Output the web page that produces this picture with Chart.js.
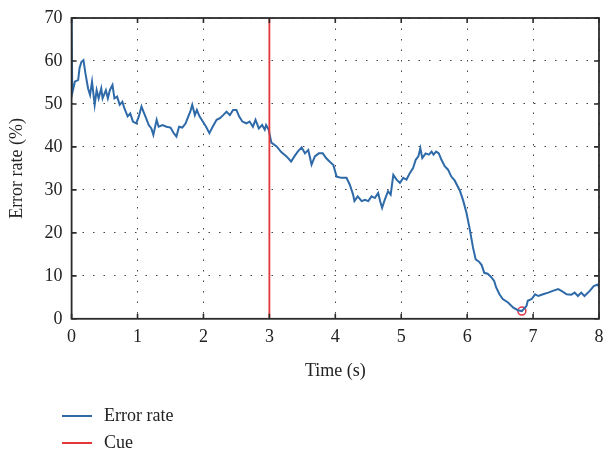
<!DOCTYPE html>
<html>
<head>
<meta charset="utf-8">
<script src="https://cdn.jsdelivr.net/npm/chart.js@4.4.1/dist/chart.umd.min.js"></script>
<style>
  html, body { margin: 0; padding: 0; background: #fff; overflow: hidden; }
  #wrap { position: relative; width: 603px; height: 451px; overflow: hidden; }
  #legend { position: absolute; left: 62px; top: 402px; font-family: "Liberation Serif", serif; font-size: 18px; color: #222; }
  .item { display: flex; align-items: center; height: 27px; }
  .swatch { width: 30px; height: 0; border-top: 2px solid; margin-right: 12px; }
</style>
</head>
<body>
<div id="wrap">
  <canvas id="chart" width="612" height="451"></canvas>
  <div id="legend">
    <div class="item"><span class="swatch" style="border-color:#2e6aa8"></span>Error rate</div>
    <div class="item"><span class="swatch" style="border-color:#e5363a"></span>Cue</div>
  </div>
</div>
<script>
// time axis (s) and error rate (%)
let timeSec = [
  0.00, 0.01, 0.05, 0.10, 0.12, 0.15, 0.18, 0.21, 0.25, 0.28, 0.31, 0.35, 0.38, 0.41, 0.45, 0.47,
  0.52, 0.55, 0.58, 0.62, 0.65, 0.69, 0.73, 0.77, 0.80, 0.85, 0.89, 0.93, 0.98, 1.02, 1.06, 1.09,
  1.13, 1.17, 1.21, 1.24, 1.29, 1.32, 1.38, 1.44, 1.50, 1.55, 1.59, 1.63, 1.68, 1.73, 1.76, 1.80,
  1.83, 1.87, 1.90, 1.94, 1.99, 2.04, 2.09, 2.14, 2.20, 2.25, 2.30, 2.35, 2.40, 2.45, 2.50, 2.54,
  2.59, 2.65, 2.70, 2.75, 2.79, 2.84, 2.89, 2.93, 2.95, 2.99, 3.03, 3.11, 3.18, 3.26, 3.33, 3.38,
  3.43, 3.49, 3.54, 3.59, 3.64, 3.69, 3.75, 3.81, 3.86, 3.92, 3.97, 4.02, 4.09, 4.17, 4.22, 4.27,
  4.29, 4.34, 4.40, 4.45, 4.50, 4.55, 4.60, 4.65, 4.68, 4.71, 4.75, 4.80, 4.84, 4.88, 4.93, 4.98,
  5.03, 5.08, 5.13, 5.18, 5.22, 5.26, 5.29, 5.32, 5.37, 5.42, 5.46, 5.49, 5.53, 5.57, 5.61, 5.66,
  5.71, 5.76, 5.81, 5.89, 5.94, 5.99, 6.04, 6.09, 6.13, 6.18, 6.22, 6.26, 6.31, 6.36, 6.41, 6.44,
  6.49, 6.54, 6.62, 6.70, 6.77, 6.83, 6.90, 6.92, 6.98, 7.03, 7.08, 7.15, 7.23, 7.30, 7.38, 7.43,
  7.51, 7.58, 7.63, 7.68, 7.73, 7.78, 7.86, 7.92, 7.99, 8.00
];
let errorRate = [
  70.0, 52.5, 55.2, 55.6, 58.3, 59.8, 60.2, 57.1, 53.6, 52.1, 55.2, 49.8, 53.2, 51.3, 53.6, 51.3,
  53.2, 51.3, 53.2, 54.4, 51.3, 51.7, 49.8, 50.5, 49.0, 47.1, 47.8, 45.9, 45.5, 47.1, 49.4, 48.2,
  46.7, 45.1, 44.3, 42.8, 46.3, 44.7, 45.1, 44.7, 44.5, 43.2, 42.4, 44.7, 44.5, 45.5, 46.7, 48.2,
  49.8, 47.4, 48.6, 47.1, 45.9, 44.7, 43.2, 44.7, 46.3, 46.7, 47.4, 48.2, 47.4, 48.6, 48.6, 47.1,
  45.9, 45.5, 45.9, 44.7, 46.3, 44.3, 45.1, 44.0, 45.1, 44.0, 41.0, 40.1, 38.8, 37.8, 36.6, 37.8,
  38.9, 39.9, 38.5, 39.3, 35.9, 37.8, 38.5, 38.5, 37.4, 36.5, 35.8, 33.1, 32.8, 32.8, 31.2, 28.9,
  27.4, 28.5, 27.4, 27.7, 27.4, 28.5, 28.1, 29.3, 27.4, 25.8, 27.7, 29.7, 28.9, 33.5, 32.4, 31.6,
  32.8, 32.4, 33.9, 35.1, 37.0, 37.8, 39.7, 37.4, 38.5, 38.2, 38.9, 38.2, 38.9, 38.5, 37.0, 35.5,
  34.7, 33.1, 32.2, 29.8, 27.5, 24.6, 20.8, 16.5, 13.8, 13.3, 12.5, 10.7, 10.5, 9.8, 8.8, 7.3,
  5.7, 4.6, 3.8, 2.6, 2.0, 1.8, 3.0, 4.2, 4.6, 5.7, 5.3, 5.7, 6.1, 6.5, 6.9, 6.5,
  5.7, 5.6, 6.1, 5.3, 6.1, 5.3, 6.5, 7.6, 8.0, 7.2
];
let cueTime = [3, 3];
let cueRange = [0, 70];
let minPoint = { x: 6.83, y: 1.8 };
let xTicks = [0, 1, 2, 3, 4, 5, 6, 7, 8];
let yTicks = [0, 10, 20, 30, 40, 50, 60, 70];

const serif = '"Liberation Serif", "Times New Roman", serif';
const textColor = '#222';

// frame box and inside tick marks, like the original plot
const framePlugin = {
  id: 'frame',
  afterDatasetsDraw(chart) {
    const { ctx, chartArea: a, scales } = chart;
    ctx.save();
    ctx.strokeStyle = '#2b2b2b';
    ctx.lineWidth = 1.6;
    ctx.beginPath();
    xTicks.forEach(v => {
      const px = scales.x.getPixelForValue(v);
      ctx.moveTo(px, a.bottom); ctx.lineTo(px, a.bottom - 5);
      ctx.moveTo(px, a.top); ctx.lineTo(px, a.top + 5);
    });
    yTicks.forEach(v => {
      const py = scales.y.getPixelForValue(v);
      ctx.moveTo(a.left, py); ctx.lineTo(a.left + 5, py);
      ctx.moveTo(a.right, py); ctx.lineTo(a.right - 5, py);
    });
    ctx.stroke();
    ctx.lineWidth = 1.8;
    ctx.strokeRect(a.left, a.top, a.right - a.left, a.bottom - a.top);
    ctx.restore();
  }
};

new Chart(document.getElementById('chart'), {
  type: 'line',
  data: {
    datasets: [
      {
        label: 'Cue',
        data: cueTime.map((t, i) => ({ x: t, y: cueRange[i] })),
        borderColor: '#e5363a',
        borderWidth: 1.8,
        pointRadius: 0
      },
      {
        label: 'Error rate',
        data: timeSec.map((t, i) => ({ x: t, y: errorRate[i] })),
        borderColor: '#2e6aa8',
        borderWidth: 2,
        pointRadius: 0,
        tension: 0
      },
      {
        label: 'Minimum',
        data: [minPoint],
        showLine: false,
        pointRadius: 4,
        pointBorderWidth: 1.5,
        pointBorderColor: '#e0384a',
        pointBackgroundColor: 'rgba(0,0,0,0)'
      }
    ]
  },
  options: {
    responsive: false,
    animation: false,
    layout: { padding: { left: 6, right: 13, top: 4, bottom: 69 } },
    plugins: {
      legend: { display: false },
      tooltip: { enabled: false }
    },
    scales: {
      x: {
        type: 'linear',
        min: 0, max: 8,
        afterBuildTicks: s => { s.ticks = xTicks.map(v => ({ value: v })); },
        grid: { color: '#444', lineWidth: 1, drawTicks: false },
        border: { display: false, dash: [1.5, 9] },
        ticks: { color: textColor, font: { family: serif, size: 18 }, padding: 8, maxRotation: 0 },
        title: { display: true, text: 'Time (s)', color: textColor, font: { family: serif, size: 18 }, padding: { top: 4, bottom: 0 } }
      },
      y: {
        min: 0, max: 70,
        afterBuildTicks: s => { s.ticks = yTicks.map(v => ({ value: v })); },
        grid: { color: '#444', lineWidth: 1, drawTicks: false },
        border: { display: false, dash: [1.5, 9] },
        ticks: { color: textColor, font: { family: serif, size: 18, lineHeight: 1 }, padding: 9 },
        title: { display: true, text: 'Error rate (%)', color: textColor, font: { family: serif, size: 18 }, padding: { top: 0, bottom: 8 } }
      }
    }
  },
  plugins: [framePlugin]
});
</script>
</body>
</html>
